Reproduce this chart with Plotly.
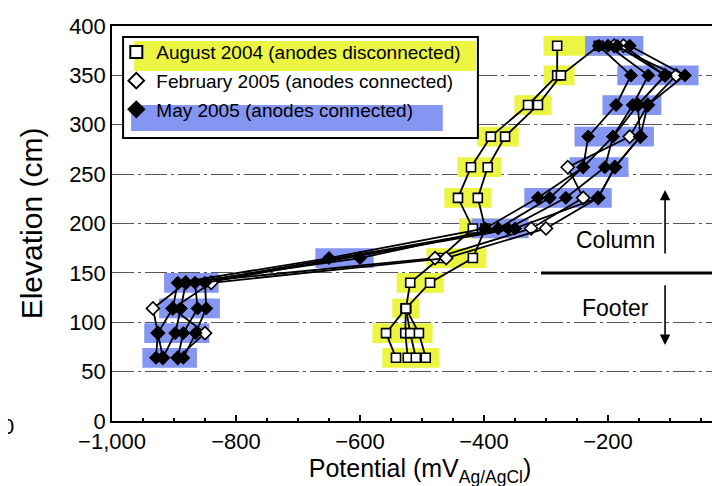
import plotly.graph_objects as go

# ---------------- data ----------------
elevations = [64, 89, 114, 140, 165, 195, 226, 257, 288, 320, 350, 380]

aug_2004 = [
    [-542, -558, -526, -519, -471, -418, -442, -421, -389, -329, -282, -282],
    [-523, -527, -526, -487, -418, -398, -410, -394, -366, -313, -276, -215],
    [-510, -519, -526, None, None, None, None, None, None, None, None, None],
    [-494, -505, -526, None, None, None, None, None, None, None, None, None],
]
feb_2005 = [
    [-918, -926, -934, -881, -479, -324, -240, -265, -165, -136, -90, -190],
    [-894, -850, -902, -840, -461, -300, -216, -189, -148, -152, -108, -175],
]
may_2005 = [
    [-929, -926, -902, -894, -650, -398, -313, -240, -232, -187, -163, -215],
    [-918, -898, -889, -881, -600, -377, -294, -240, -192, -160, -135, -200],
    [-894, -885, -862, -866, None, -361, -268, -205, -192, -152, -108, -185],
    [-885, -865, -848, -850, None, -350, -216, -189, -148, -136, -76, -165],
]
series_names = ["August 2004 (anodes disconnected)",
                "February 2005 (anodes connected)",
                "May 2005 (anodes connected)"]
x_ticks = [-1000, -800, -600, -400, -200]
x_tick_text = ["\u22121,000", "\u2212800", "\u2212600", "\u2212400", "\u2212200"]
y_ticks = [0, 50, 100, 150, 200, 250, 300, 350, 400]

# ---------------- style ----------------
FONT = "Liberation Sans, Arial, Helvetica, sans-serif"
YELLOW = "#ebf542"
BLUE = "#8595f2"

fig = go.Figure()

styles = [
    (aug_2004, series_names[0], dict(symbol="square", size=9, color="white",
                                     line=dict(color="black", width=1.6))),
    (feb_2005, series_names[1], dict(symbol="diamond", size=10, color="white",
                                     line=dict(color="black", width=1.6))),
    (may_2005, series_names[2], dict(symbol="diamond", size=10, color="black",
                                     line=dict(color="black", width=1))),
]

for profiles, name, marker in styles:
    for prof in profiles:
        fig.add_trace(go.Scatter(
            x=prof, y=elevations, mode="lines+markers", name=name,
            legendgroup=name, showlegend=False, connectgaps=True,
            line=dict(color="black", width=1.8), marker=marker,
        ))

# legend-only entries (marker symbol only, no line)
for profiles, name, marker in styles:
    lm = dict(marker)
    lm["size"] = 13
    fig.add_trace(go.Scatter(x=[None], y=[None], mode="markers", name=name,
                             legendgroup=name, showlegend=True, marker=lm))

# highlight boxes derived from the data points (per elevation)
shapes = []
def highlights(profiles, color, pad_x=22, half_h=10):
    for j, e in enumerate(elevations):
        vals = [p[j] for p in profiles if p[j] is not None]
        if not vals:
            continue
        shapes.append(dict(type="rect", xref="x", yref="y",
                           x0=min(vals) - pad_x, x1=max(vals) + pad_x,
                           y0=e - half_h, y1=e + half_h,
                           fillcolor=color, line=dict(width=0), layer="between"))
highlights(aug_2004, YELLOW)
highlights(may_2005, BLUE)

# Column / footer divider
shapes.append(dict(type="line", xref="x", yref="y", x0=-308, x1=0, y0=150, y1=150,
                   line=dict(color="black", width=3), layer="above"))

# legend box + legend highlights (paper coords)
shapes.append(dict(type="rect", xref="paper", yref="paper", x0=0.018, x1=0.594,
                   y0=0.7165, y1=0.972, fillcolor="white",
                   line=dict(color="black", width=2), layer="above"))
shapes.append(dict(type="rect", xref="paper", yref="paper", x0=0.036, x1=0.591,
                   y0=0.886, y1=0.962, fillcolor=YELLOW, line=dict(width=0), layer="above"))
shapes.append(dict(type="rect", xref="paper", yref="paper", x0=0.031, x1=0.537,
                   y0=0.734, y1=0.80, fillcolor=BLUE, line=dict(width=0), layer="above"))

annotations = [
    dict(x=-188, y=183, xref="x", yref="y", text="Column", showarrow=False,
         font=dict(size=23, color="black", family=FONT)),
    dict(x=-188, y=114, xref="x", yref="y", text="Footer", showarrow=False,
         font=dict(size=23, color="black", family=FONT)),
    dict(x=-108, y=234, ax=-108, ay=168, xref="x", yref="y", axref="x", ayref="y",
         text="", showarrow=True, arrowhead=2, arrowsize=1.3, arrowwidth=1.6,
         arrowcolor="black"),
    dict(x=-108, y=77, ax=-108, ay=139, xref="x", yref="y", axref="x", ayref="y",
         text="", showarrow=True, arrowhead=2, arrowsize=1.3, arrowwidth=1.6,
         arrowcolor="black"),
    # "0" tick label at the right edge (cut off by the window)
    dict(x=1.0035, y=-0.045, xref="paper", yref="paper", text="0", showarrow=False,
         xanchor="center", yanchor="middle",
         font=dict(size=22, color="black", family=FONT)),
    # stray "0" at the far left edge
    dict(x=-0.156, y=-0.014, xref="paper", yref="paper", text="0", showarrow=False,
         xanchor="right", yanchor="middle",
         font=dict(size=22, color="black", family=FONT)),
]

fig.update_layout(
    width=720, height=486,
    margin=dict(l=104, r=0, t=18, b=73),
    paper_bgcolor="white", plot_bgcolor="white",
    font=dict(family=FONT, color="black", size=21),
    showlegend=True,
    legend=dict(x=0.007, y=0.982, xanchor="left", yanchor="top",
                bgcolor="rgba(0,0,0,0)", borderwidth=0,
                font=dict(size=19, family=FONT, color="black"),
                tracegroupgap=1, itemsizing="constant", itemwidth=30),
    shapes=shapes, annotations=annotations,
)

fig.update_xaxes(
    range=[-1000, -6.5], tickvals=x_ticks, ticktext=x_tick_text,
    showgrid=False, zeroline=False, showline=True, linecolor="black", linewidth=2,
    mirror=True, ticks="inside", ticklen=6, tickwidth=1.5, tickcolor="black",
    minor=dict(ticks="inside", ticklen=3, dtick=50, tickcolor="black", showgrid=False),
    tickfont=dict(size=22), automargin=False,
    title=dict(text="Potential (mV<sub>Ag/AgCl</sub>)", font=dict(size=25), standoff=4),
)
fig.update_yaxes(
    range=[0, 400], tickvals=y_ticks, showgrid=True, gridcolor="#555",
    gridwidth=1, griddash="22px,4px,3px,4px", zeroline=False,
    showline=True, linecolor="black", linewidth=1.5, ticks="",
    tickfont=dict(size=22), automargin=False,
    title=dict(text="Elevation (cm)", font=dict(size=30), standoff=18),
)

fig.write_html("out.html")
